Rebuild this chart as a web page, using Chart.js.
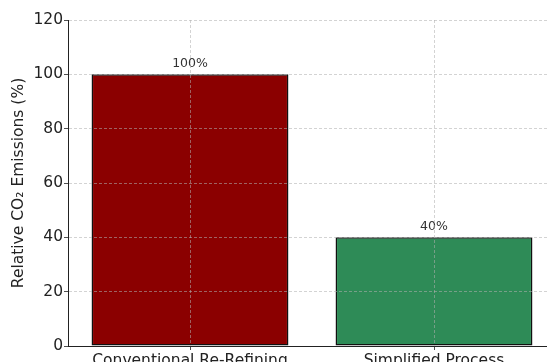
<!DOCTYPE html>
<html lang="en">
<head>
  <meta charset="UTF-8">
  <title>Relative CO2 Emissions</title>
  <script src="https://cdn.jsdelivr.net/npm/chart.js"></script>
  <style>
    html, body { margin: 0; padding: 0; background: #fff; overflow: hidden; }
    canvas { display: block; }
  </style>
</head>
<body>
  <canvas id="co2Chart" width="560" height="375"></canvas>

  <script>
    // data
    const processes = ['Conventional Re-Refining', 'Simplified Process'];
    const emissions = [100, 40];
    const barColors = ['#8b0000', '#2e8b57'];
    const yTicks = [0, 20, 40, 60, 80, 100, 120];

    const FONT = "'DejaVu Sans', sans-serif";

    // percentage labels above the bars
    const valueLabels = {
      id: 'valueLabels',
      afterDatasetsDraw(chart) {
        const ctx = chart.ctx;
        const meta = chart.getDatasetMeta(0);
        ctx.save();
        ctx.font = '12.5px ' + FONT;
        ctx.fillStyle = '#333';
        ctx.textAlign = 'center';
        ctx.textBaseline = 'bottom';
        meta.data.forEach((bar, i) => {
          ctx.fillText(emissions[i] + '%', bar.x, bar.y - 4);
        });
        ctx.restore();
      }
    };

    const ctx = document.getElementById('co2Chart').getContext('2d');
    new Chart(ctx, {
      type: 'bar',
      data: {
        labels: processes,
        datasets: [{
          data: emissions,
          backgroundColor: barColors,
          borderColor: '#111',
          borderWidth: 1.5,
          borderSkipped: false,
          barPercentage: 0.807,
          categoryPercentage: 1.0
        }]
      },
      options: {
        responsive: false,
        animation: false,
        layout: { padding: { top: 20, right: 4, left: 0, bottom: 0 } },
        plugins: {
          legend: { display: false },
          tooltip: { enabled: false }
        },
        scales: {
          x: {
            offset: true,
            grid: {
              offset: false,
              color: 'rgba(176,176,176,0.7)',
              lineWidth: 0.8,
              tickColor: '#222',
              tickLength: 4,
              z: 1
            },
            border: { color: '#222', width: 1, dash: [3, 2], z: 2 },
            ticks: {
              color: '#222',
              font: { family: FONT, size: 15.5 },
              padding: 2,
              maxRotation: 0,
              autoSkip: false
            },
            afterFit(scale) { scale.height = 29; }
          },
          y: {
            min: 0,
            max: 120,
            afterBuildTicks(scale) {
              scale.ticks = yTicks.map(v => ({ value: v }));
            },
            grid: {
              color: 'rgba(176,176,176,0.7)',
              lineWidth: 0.8,
              tickColor: '#222',
              tickLength: 4,
              z: 1
            },
            border: { color: '#222', width: 1, dash: [3, 2], z: 2 },
            ticks: {
              color: '#222',
              font: { family: FONT, size: 15.5 },
              padding: 1
            },
            title: {
              display: true,
              text: 'Relative CO₂ Emissions (%)',
              color: '#222',
              font: { family: FONT, size: 15.5 },
              padding: { top: 10, bottom: 0 }
            },
            afterFit(scale) { scale.width = 68; }
          }
        }
      },
      plugins: [valueLabels]
    });
  </script>
</body>
</html>
